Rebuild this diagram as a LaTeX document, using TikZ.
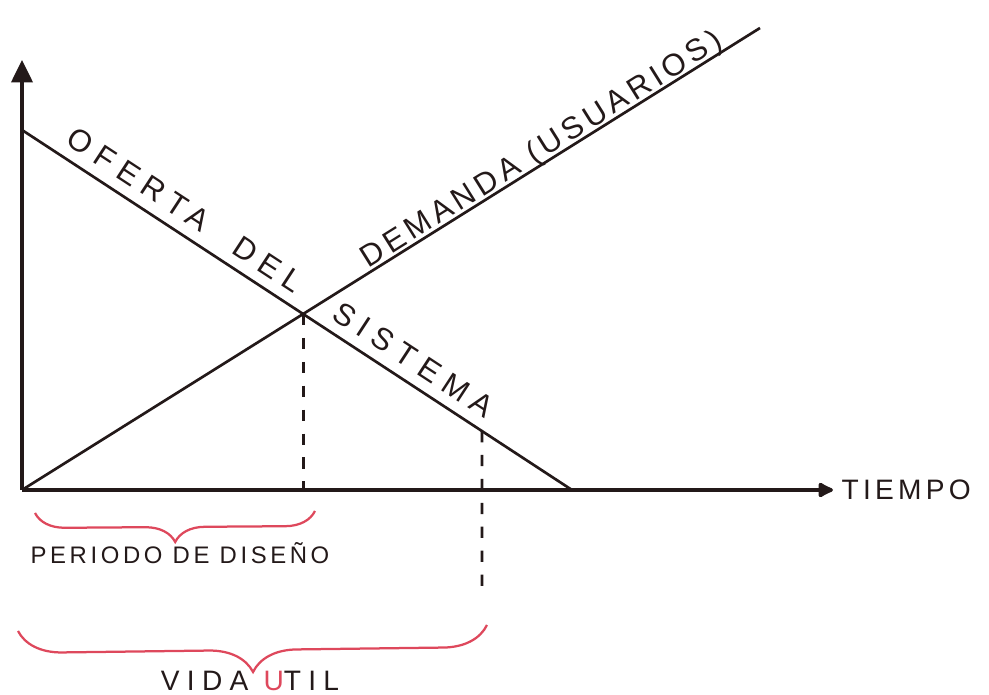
\documentclass[tikz,border=0pt]{standalone}
\usepackage{fontspec}
\newfontfamily\handfont[LetterSpace=26]{Liberation Sans}
\newfontfamily\handtight[LetterSpace=15]{Liberation Sans}
\usetikzlibrary{calc,intersections,arrows.meta,decorations.pathreplacing}
\definecolor{ink}{RGB}{35,25,25}
\definecolor{bracered}{RGB}{222,72,92}

\begin{document}
\begin{tikzpicture}[x=0.025cm,y=0.025cm,
  axis/.style={line width=2.8pt,draw=ink},
  curve/.style={line width=1.9pt,draw=ink},
  guide/.style={line width=2pt,draw=ink,dash pattern=on 8pt off 9pt},
  lbl/.style={text=ink,font=\handfont\fontsize{22}{26}\selectfont,inner sep=2pt},
  lbltight/.style={text=ink,font=\handtight\fontsize{#1}{26}\selectfont,inner sep=2pt},
  span/.style={draw=bracered,line width=1.6pt,decorate,decoration={brace,mirror,amplitude=#1}}]
  \useasboundingbox (0,0) rectangle (989,695);
  \coordinate (O) at (22,205);
  \coordinate (Ytop) at (22,635);
  \coordinate (Xend) at (833,205);
  \coordinate (S0) at (22,565);
  \coordinate (S1) at (572,205);
  \coordinate (D1) at (760,667);
  % axes
  \draw[axis,-{Triangle[length=16pt,width=15pt]}] (O) -- (Ytop);
  \draw[axis,-{Latex[round,length=13pt,width=13pt]}] (O) -- (Xend);
  \node[lbltight=20,right=4pt] (tiempo) at (Xend) {TIEMPO};
  % oferta y demanda
  \draw[curve,name path=oferta] (S0) -- (S1);
  \draw[curve,name path=demanda] (O) -- (D1);
  \path[name intersections={of=oferta and demanda,by=X}];
  \path (S0) -- (S1)
    node[lbl,sloped,above=6pt,pos=0.19] (ofertatxt) {OFERTA}
    node[lbl,sloped,above=6pt,pos=0.425] (deltxt) {DEL}
    node[lbl,sloped,above=6pt,pos=0.69] (sistematxt) {SISTEMA};
  \path (O) -- (D1)
    node[lbltight=22,sloped,above=-4pt,pos=0.713] (demandatxt) {DEMANDA (USUARIOS)};
  % lineas de guia
  \coordinate (V) at ($(S0)!0.8364!(S1)$);
  \coordinate (Vb) at (482,105);
  \draw[guide] (X) -- (X |- O);
  \draw[guide] (V) -- (Vb);
  % periodos
  \draw[span=0.75cm] (35,182) -- (315,184);
  \node[lbltight=17] (periodo) at (180,142) {PERIODO DE DISEÑO};
  \draw[span=1.1cm] (18,64) -- (487,70);
  \node[lbl,font=\handfont\fontsize{20}{24}\selectfont] (vida) at (250,14) {VIDA \textcolor{bracered}{U}TIL};
\end{tikzpicture}
\end{document}
